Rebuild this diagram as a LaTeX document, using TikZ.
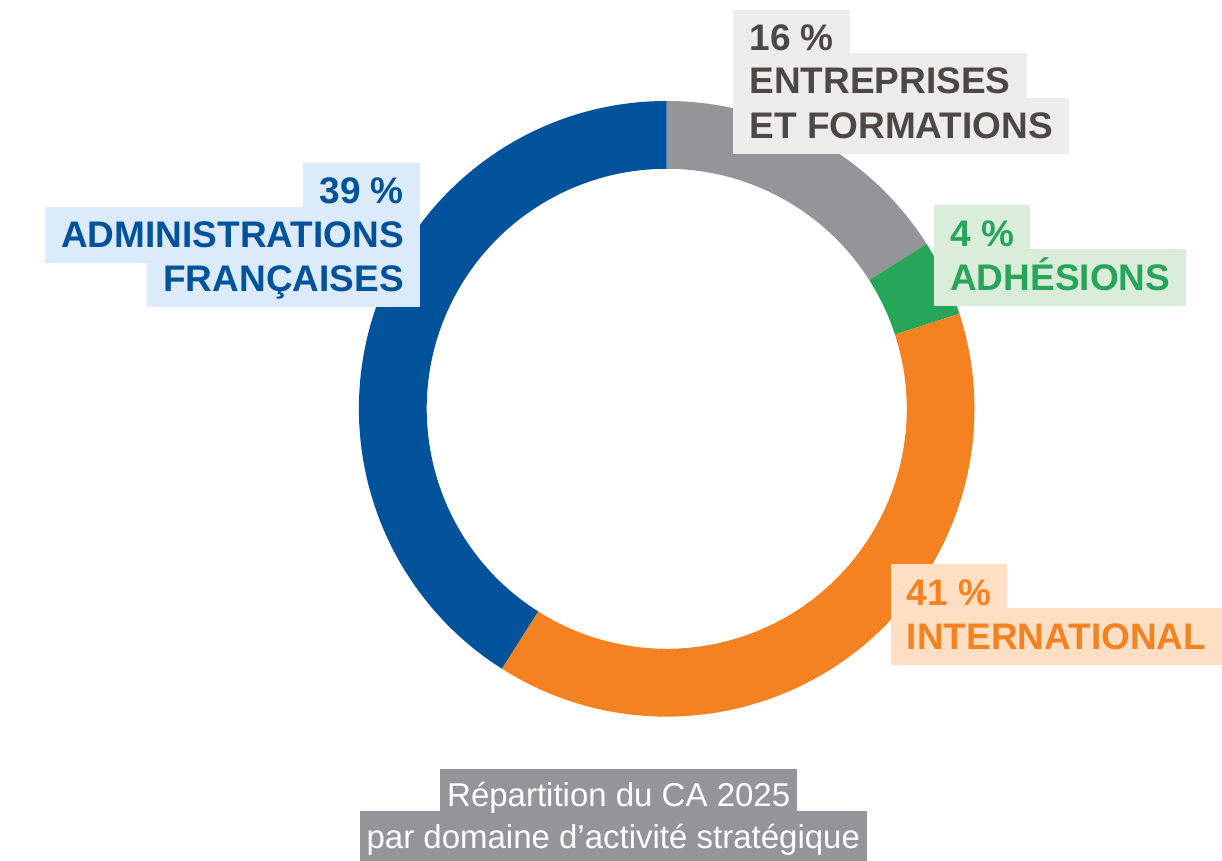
\documentclass[tikz,border=0pt]{standalone}
\usepackage{fontspec}
\setmainfont{Liberation Sans}
\definecolor{blueC}{HTML}{00539B}
\definecolor{bluebg}{HTML}{DCEBFC}
\definecolor{grayC}{HTML}{939598}
\definecolor{graytxt}{HTML}{4D4846}
\definecolor{graybg}{HTML}{EDEDED}
\definecolor{greenC}{HTML}{27A558}
\definecolor{greenbg}{HTML}{DAEDDA}
\definecolor{orangeC}{HTML}{F58220}
\definecolor{orangebg}{HTML}{FEDFC4}
\definecolor{capgray}{HTML}{939598}
\pgfdeclarelayer{ringlayer}
\pgfdeclarelayer{boxlayer}
\pgfsetlayers{ringlayer,boxlayer,main}
\newcommand\ringsector[3]{%
  \fill[#1,shift={(c)}] (#2:307.8) arc[start angle=#2,end angle=#3,radius=307.8]
     -- (#3:240) arc[start angle=#3,end angle=#2,radius=240] -- cycle;}
\newcommand\boxfill[2]{%
  \begin{pgfonlayer}{boxlayer}
  \foreach \n in {#2}{\fill[#1] (\n.south west) rectangle (\n.north east);}
  \end{pgfonlayer}}
\begin{document}
\begin{tikzpicture}[x=1pt,y=1pt,
  labelbox/.style={font=\fontsize{37}{44}\selectfont\bfseries, inner xsep=16pt, inner ysep=0pt,
     text height=41pt, text depth=15pt},
  captionbox/.style={font=\fontsize{33}{40}\selectfont, text=white, inner xsep=6.5pt, inner ysep=0pt,
     text height=37pt, text depth=15pt, anchor=base}]
\useasboundingbox (0,0) rectangle (1222,861);
\coordinate (c) at (666.7,452.2);
\begin{pgfonlayer}{ringlayer}
  \fill[white] (0,0) rectangle (1222,861);
  \ringsector{grayC}{32.4}{90}
  \ringsector{greenC}{18}{32.4}
  \ringsector{orangeC}{-122.4}{18}
  \ringsector{blueC}{90}{237.6}
\end{pgfonlayer}

% Administrations françaises
\node[labelbox, text=blueC, anchor=base east] (adm1) at (420,657.2) {39 \%};
\node[labelbox, text=blueC, anchor=base east] (adm2) at (420,613.2) {ADMINISTRATIONS};
\node[labelbox, text=blueC, anchor=base east] (adm3) at (420,569.2) {FRANÇAISES};
\boxfill{bluebg}{adm1,adm2,adm3}

% Entreprises et formations
\node[labelbox, text=graytxt, anchor=base west] (ent1) at (733.3,810) {16 \%};
\node[labelbox, text=graytxt, anchor=base west] (ent2) at (733.3,767) {ENTREPRISES};
\node[labelbox, text=graytxt, anchor=base west] (ent3) at (733.3,722) {ET FORMATIONS};
\boxfill{graybg}{ent1,ent2,ent3}

% Adhésions
\node[labelbox, text=greenC, anchor=base west] (adh1) at (934,614.5) {4 \%};
\node[labelbox, text=greenC, anchor=base west] (adh2) at (934,570.5) {ADHÉSIONS};
\boxfill{greenbg}{adh1,adh2}

% International
\node[labelbox, text=orangeC, anchor=base west] (int1) at (890.7,255.5) {41 \%};
\node[labelbox, text=orangeC, anchor=base west] (int2) at (890.7,211.3) {INTERNATIONAL};
\boxfill{orangebg}{int1,int2}

% Caption
\node[captionbox] (cap1) at (618.7,54.3) {Répartition du CA 2025};
\node[captionbox] (cap2) at (613.3,12.7) {par domaine d’activité stratégique};
\boxfill{capgray}{cap1,cap2}
\end{tikzpicture}
\end{document}
